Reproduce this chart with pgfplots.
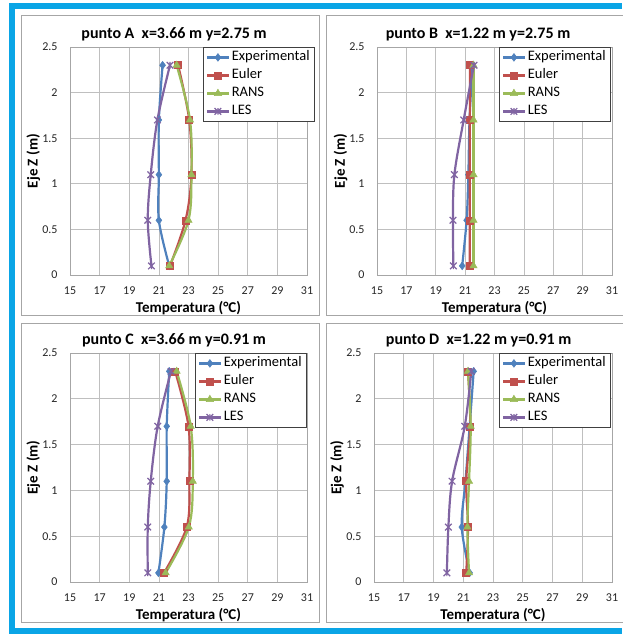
\documentclass[border=0pt]{standalone}
\usepackage{fontspec}
\setmainfont{Carlito}
\usepackage{pgfplots}
\pgfplotsset{compat=1.18}
\definecolor{cExp}{HTML}{4F81BD}
\definecolor{cEul}{HTML}{C0504D}
\definecolor{cRANS}{HTML}{9BBB59}
\definecolor{cLES}{HTML}{8064A2}
\definecolor{frameblue}{HTML}{0AA5E6}
\definecolor{boxgray}{HTML}{A6A6A6}
\pgfdeclareplotmark{xstar}{%
  \pgfpathmoveto{\pgfqpoint{-\pgfplotmarksize}{-\pgfplotmarksize}}%
  \pgfpathlineto{\pgfqpoint{\pgfplotmarksize}{\pgfplotmarksize}}%
  \pgfpathmoveto{\pgfqpoint{-\pgfplotmarksize}{\pgfplotmarksize}}%
  \pgfpathlineto{\pgfqpoint{\pgfplotmarksize}{-\pgfplotmarksize}}%
  \pgfpathmoveto{\pgfqpoint{0pt}{-\pgfplotmarksize}}%
  \pgfpathlineto{\pgfqpoint{0pt}{\pgfplotmarksize}}%
  \pgfusepathqstroke}
\pgfplotsset{
  panel/.style={
    scale only axis,
    xmin=15, xmax=31, ymin=0, ymax=2.5,
    xtick={15,17,...,31}, ytick={0,0.5,...,2.5},
    grid=major,
    major grid style={draw=black!25, line width=0.7pt},
    axis line style={draw=black!35, line width=0.8pt},
    major tick length=0pt,
    tick label style={font=\fontsize{12}{13}\selectfont, color=black!85},
    /pgf/number format/assume math mode=true,
    xticklabel style={yshift=-8pt},
    yticklabel style={xshift=-9pt},
    xlabel={Temperatura (°C)}, ylabel={Eje Z (m)},
    label style={font=\bfseries\fontsize{15}{16}\selectfont},
    xlabel style={at={(axis description cs:0.5,-0.145)}, anchor=center},
    ylabel style={at={(axis description cs:-0.155,0.5)}, anchor=center},
    legend cell align=left,
    legend style={font=\fontsize{14.5}{15}\selectfont, draw=black!75, line width=0.8pt,
      fill=white, inner xsep=3pt, inner ysep=1pt, anchor=north east, row sep=0pt,
      nodes={text height=10.5pt, text depth=3.5pt, inner ysep=2pt}},
    legend image code/.code={%
      \draw[mark repeat=2,mark phase=2] plot coordinates {(0cm,0cm) (0.38cm,0cm) (0.76cm,0cm)};},
    every axis plot/.append style={line width=2.2pt, smooth, tension=0.55},
  },
  ptitle/.style={title style={at={(axis description cs:#1,1.022)}, anchor=south, yshift=-9pt,
      font=\bfseries\fontsize{16}{17}\selectfont}},
  sExp/.style={color=cExp, mark=diamond*, mark size=3.9pt, mark options={solid, line width=0.5pt}},
  sEul/.style={color=cEul, mark=square*, mark size=3.5pt, mark options={solid, line width=0.5pt}},
  sRANS/.style={color=cRANS, mark=triangle*, mark size=4.2pt, mark options={solid, line width=0.5pt}},
  sLES/.style={color=cLES, mark=xstar, mark size=3.3pt, mark options={solid, line width=1.2pt}},
}
\begin{document}
\begin{tikzpicture}
\useasboundingbox (0pt,0pt) rectangle (622pt,-634pt);
% outer blue frame
\fill[frameblue] (9pt,-3pt) rectangle (622pt,-9pt);
\fill[frameblue] (9pt,-3pt) rectangle (15pt,-634pt);
\fill[frameblue] (9pt,-628pt) rectangle (622pt,-634pt);
% panel boxes
\draw[boxgray, line width=1pt] (21pt,-16pt) rectangle (319pt,-315pt);
\draw[boxgray, line width=1pt] (326pt,-16pt) rectangle (640pt,-315pt);
\draw[boxgray, line width=1pt] (21pt,-323pt) rectangle (319pt,-622pt);
\draw[boxgray, line width=1pt] (326pt,-323pt) rectangle (640pt,-622pt);

% Panel A
\begin{axis}[panel, at={(70pt,-275pt)}, anchor=south west, width=237pt, height=228pt,
  title={punto A\ \ x=3.66 m y=2.75 m}, ptitle=0.439,
  legend style={at={(axis description cs:1.034,1.0)}}]
\addplot[sExp] coordinates {(21.7,0.1)(21.0,0.6)(21.0,1.1)(21.0,1.7)(21.25,2.3)};
\addplot[sEul] coordinates {(21.75,0.1)(22.8,0.6)(23.2,1.1)(23.05,1.7)(22.3,2.3)};
\addplot[sRANS] coordinates {(21.7,0.1)(23.0,0.6)(23.2,1.1)(23.1,1.7)(22.2,2.3)};
\addplot[sLES] coordinates {(20.5,0.1)(20.25,0.6)(20.45,1.1)(20.9,1.7)(21.75,2.3)};
\legend{Experimental,Euler,RANS,LES}
\end{axis}

% Panel B
\begin{axis}[panel, at={(377pt,-275pt)}, anchor=south west, width=235pt, height=228pt,
  title={punto B\ \ x=1.22 m y=2.75 m}, ptitle=0.43,
  legend style={at={(axis description cs:0.996,1.0)}}]
\addplot[sExp] coordinates {(20.8,0.1)(21.1,0.6)(21.22,1.1)(21.3,1.7)(21.5,2.3)};
\addplot[sEul] coordinates {(21.32,0.1)(21.32,0.6)(21.32,1.1)(21.32,1.7)(21.34,2.3)};
\addplot[sRANS] coordinates {(21.57,0.1)(21.57,0.6)(21.57,1.1)(21.57,1.7)(21.57,2.3)};
\addplot[sLES] coordinates {(20.2,0.1)(20.17,0.6)(20.27,1.1)(20.9,1.7)(21.6,2.3)};
\legend{Experimental,Euler,RANS,LES}
\end{axis}

% Panel C
\begin{axis}[panel, at={(70pt,-582pt)}, anchor=south west, width=237pt, height=229pt,
  title={punto C\ \ x=3.66 m y=0.91 m}, ptitle=0.439,
  legend style={at={(axis description cs:1.0,1.0)}}]
\addplot[sExp] coordinates {(20.97,0.1)(21.37,0.6)(21.53,1.1)(21.53,1.7)(21.7,2.3)};
\addplot[sEul] coordinates {(21.35,0.1)(22.88,0.6)(23.06,1.1)(23.0,1.7)(22.1,2.3)};
\addplot[sRANS] coordinates {(21.46,0.1)(23.02,0.6)(23.29,1.1)(23.15,1.7)(22.2,2.3)};
\addplot[sLES] coordinates {(20.25,0.1)(20.25,0.6)(20.45,1.1)(20.92,1.7)(21.82,2.3)};
\legend{Experimental,Euler,RANS,LES}
\end{axis}

% Panel D
\begin{axis}[panel, at={(374pt,-582pt)}, anchor=south west, width=238pt, height=229pt,
  title={punto D\ \ x=1.22 m y=0.91 m}, ptitle=0.44,
  legend style={at={(axis description cs:0.996,1.0)}}]
\addplot[sExp] coordinates {(21.43,0.1)(20.9,0.6)(21.15,1.1)(21.43,1.7)(21.7,2.3)};
\addplot[sEul] coordinates {(21.2,0.1)(21.32,0.6)(21.2,1.1)(21.47,1.7)(21.32,2.3)};
\addplot[sRANS] coordinates {(21.39,0.1)(21.28,0.6)(21.39,1.1)(21.5,1.7)(21.32,2.3)};
\addplot[sLES] coordinates {(19.9,0.1)(20.0,0.6)(20.25,1.1)(21.1,1.7)(21.54,2.3)};
\legend{Experimental,Euler,RANS,LES}
\end{axis}
\end{tikzpicture}
\end{document}
